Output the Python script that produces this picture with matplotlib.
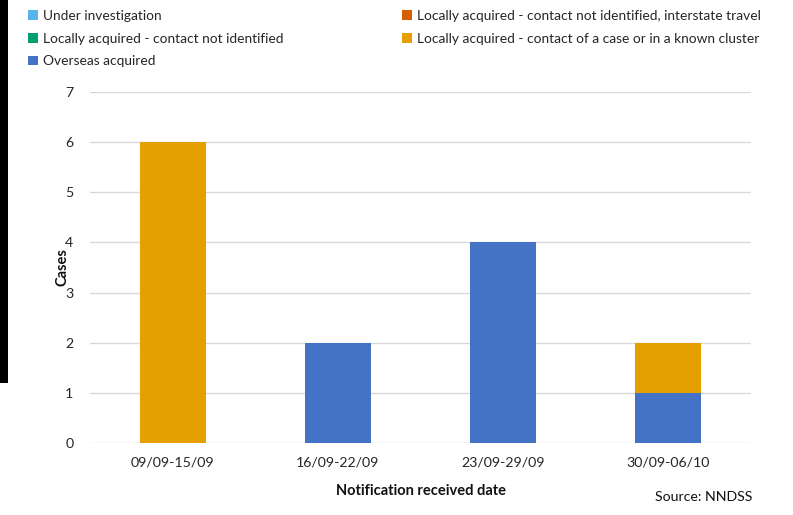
import matplotlib
matplotlib.use("Agg")
import matplotlib.pyplot as plt
from matplotlib.patches import Patch, Rectangle
import numpy as np

plt.rcParams['font.family'] = ['Lato', 'DejaVu Sans']

weeks = ["09/09-15/09", "16/09-22/09", "23/09-29/09", "30/09-06/10"]
series_names = [
    "Overseas acquired",
    "Locally acquired - contact of a case or in a known cluster",
    "Locally acquired - contact not identified, interstate travel",
    "Locally acquired - contact not identified",
    "Under investigation",
]
overseas = [0, 2, 4, 1]
contact_cluster = [6, 0, 0, 1]
interstate = [0, 0, 0, 0]
not_identified = [0, 0, 0, 0]
under_investigation = [0, 0, 0, 0]

colors = {
    "Overseas acquired": "#4472C4",
    "Locally acquired - contact of a case or in a known cluster": "#E69F00",
    "Locally acquired - contact not identified, interstate travel": "#D55E00",
    "Locally acquired - contact not identified": "#009E73",
    "Under investigation": "#56B4E9",
}

values = [overseas, contact_cluster, interstate, not_identified, under_investigation]

fig = plt.figure(figsize=(7.93, 5.15), dpi=100)
ax = fig.add_axes([90 / 793, 1 - 443 / 515, 661 / 793, 351 / 515])

x = np.arange(len(weeks))
bottom = np.zeros(len(weeks))
for name, vals in zip(series_names, values):
    vals = np.array(vals, dtype=float)
    ax.bar(x, vals, 0.4, bottom=bottom, color=colors[name], zorder=3)
    bottom += vals

ax.set_xlim(-0.5, 3.5)
ax.set_ylim(0, 7)
ax.set_yticks(range(0, 8))
ax.set_xticks(x)
ax.set_xticklabels(weeks)
ax.grid(axis='y', color='#D9D9D9', linewidth=1, zorder=0)
for s in ax.spines.values():
    s.set_visible(False)
ax.tick_params(length=0, labelsize=10.2, colors='#262626')
ax.tick_params(axis='y', pad=12)
ax.tick_params(axis='x', pad=10)
ax.set_xlabel("Notification received date", fontsize=10.5, fontweight='bold', labelpad=11, color='#111111')
ax.set_ylabel("Cases", fontsize=10.5, fontweight='bold', labelpad=-3, color='#111111')

fig.text(752 / 793, 1 - 497 / 515, "Source: NNDSS", ha='right', va='center', fontsize=10.2, color='#111111')

def handles(names):
    return [Patch(facecolor=colors[n], edgecolor='none') for n in names]

left_names = ["Under investigation", "Locally acquired - contact not identified", "Overseas acquired"]
right_names = ["Locally acquired - contact not identified, interstate travel",
               "Locally acquired - contact of a case or in a known cluster"]

leg_kw = dict(frameon=False, fontsize=9.9, handlelength=0.7, handleheight=0.7,
              handletextpad=0.4, labelspacing=0.78, borderaxespad=0, borderpad=0,
              labelcolor='#262626')
fig.legend(handles(left_names), left_names, loc='upper left',
           bbox_to_anchor=(28 / 793, 1 - 10 / 515), **leg_kw)
fig.legend(handles(right_names), right_names, loc='upper left',
           bbox_to_anchor=(402 / 793, 1 - 10 / 515), **leg_kw)

# dark strip along the left edge
fig.patches.append(Rectangle((0, 1 - 383 / 515), 8 / 793, 383 / 515,
                             transform=fig.transFigure, facecolor='black',
                             edgecolor='none', zorder=10))

fig.savefig("out.png", dpi=100)
